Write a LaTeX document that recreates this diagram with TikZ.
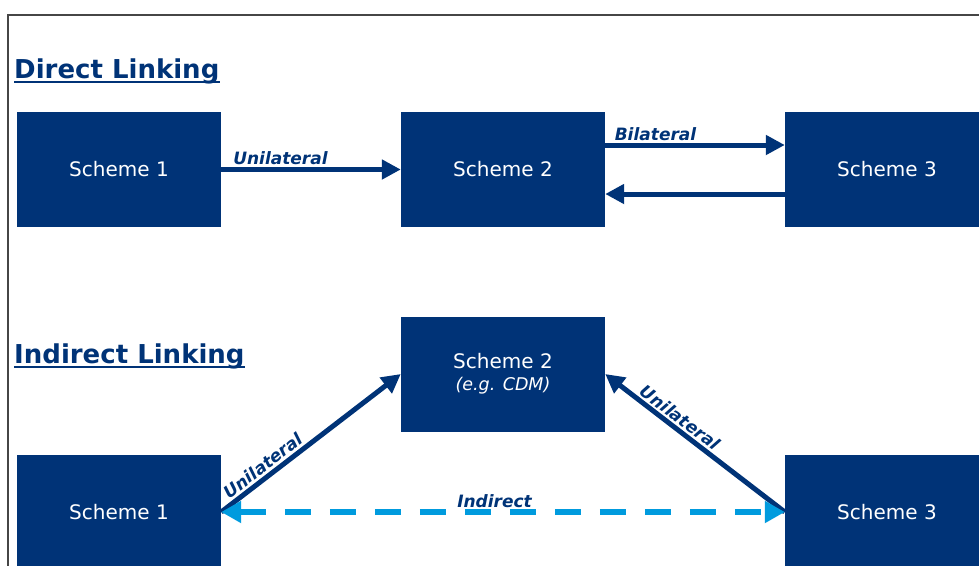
\documentclass[tikz,border=0pt]{standalone}
\usepackage{fontspec}
\setmainfont{DejaVu Sans}
\usetikzlibrary{arrows.meta}

\definecolor{linkblue}{RGB}{0,51,119}
\definecolor{indirectblue}{RGB}{0,155,222}
\definecolor{framegray}{RGB}{70,70,70}

\begin{document}
\begin{tikzpicture}[x=1pt, y=1pt]
\tikzset{
  scheme/.style={
    fill=linkblue, text=white, inner sep=0pt,
    minimum width=204pt, minimum height=115pt,
    align=center, font=\fontsize{20}{23}\selectfont
  },
  heading/.style={
    anchor=base west, inner sep=0pt, text=linkblue,
    font=\fontsize{26}{30}\selectfont\bfseries
  },
  linklabel/.style={
    text=linkblue, inner sep=2pt,
    font=\fontsize{17}{20}\selectfont\bfseries\itshape
  },
  linkarrow/.style={
    draw=linkblue, line width=5pt,
    -{Triangle[length=19pt, width=19pt]}
  }
}
\useasboundingbox (0,0) rectangle (979,-565);
\draw[framegray, line width=1.5pt] (8,-570) -- (8,-15) -- (985,-15);

% direct linking
\node[heading] (direct) at (14,-78) {Direct Linking};
\draw[linkblue, line width=2pt] ([yshift=-3.5pt]direct.base west) -- ([yshift=-3.5pt]direct.base east);

\node[scheme] (done)   at (119,-169.5) {Scheme 1};
\node[scheme] (dtwo)   at (503,-169.5) {Scheme 2};
\node[scheme] (dthree) at (887,-169.5) {Scheme 3};

\draw[linkarrow] (done) -- node[linklabel, above, pos=0.33] {Unilateral} (dtwo);
\draw[linkarrow] ([yshift=24.5pt]dtwo.east) -- node[linklabel, above, pos=0.28] {Bilateral} ([yshift=24.5pt]dthree.west);
\draw[linkarrow] ([yshift=-24.5pt]dthree.west) -- ([yshift=-24.5pt]dtwo.east);

% indirect linking
\node[heading] (indirect) at (14,-363) {Indirect Linking};
\draw[linkblue, line width=2pt] ([yshift=-3.5pt]indirect.base west) -- ([yshift=-3.5pt]indirect.base east);

\node[scheme] (itwo)   at (503,-374) {Scheme 2\\[-1pt] {\itshape\fontsize{17.5}{20}\selectfont (e.g. CDM)}};
\node[scheme] (ione)   at (119,-512) {Scheme 1};
\node[scheme] (ithree) at (887,-512) {Scheme 3};

\draw[linkarrow] (ione.east) -- node[linklabel, above, sloped, pos=0.27] {Unilateral} (itwo.west);
\draw[linkarrow] (ithree.west) -- node[linklabel, above, sloped, pos=0.62] {Unilateral} (itwo.east);
\draw[indirectblue, line width=6pt, dash pattern=on 26pt off 19pt,
      {Triangle[length=20pt, width=21pt]}-{Triangle[length=20pt, width=21pt]}]
  (ione.east) -- node[linklabel, above, pos=0.485, inner sep=1pt] {Indirect} (ithree.west);
\end{tikzpicture}
\end{document}
